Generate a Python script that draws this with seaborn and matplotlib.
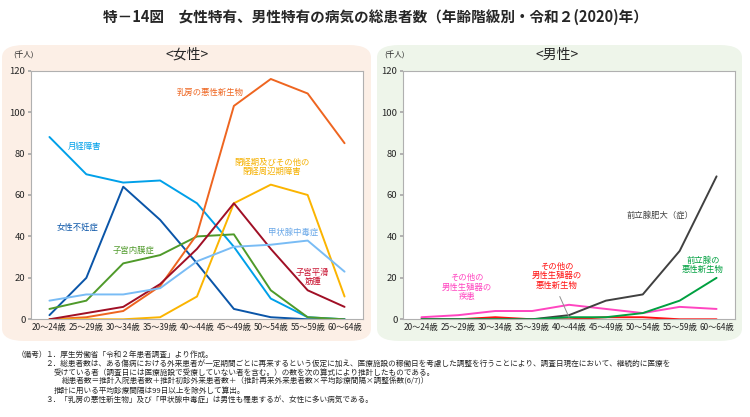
import numpy as np
import pandas as pd
import matplotlib
matplotlib.use("Agg")
import matplotlib.pyplot as plt
from matplotlib.patches import FancyBboxPatch
import seaborn as sns

ages = ["20～24歳", "25～29歳", "30～34歳", "35～39歳", "40～44歳",
        "45～49歳", "50～54歳", "55～59歳", "60～64歳"]

# 女性 (千人)
f_gekkei = [88, 70, 66, 67, 56, 35, 10, 1, 0]
f_funin = [2, 20, 64, 48, 27, 5, 1, 0, 0]
f_naimaku = [5, 9, 27, 31, 40, 41, 14, 1, 0]
f_nyubo = [0, 1, 4, 16, 41, 103, 116, 109, 85]
f_heikei = [0, 0, 0, 1, 11, 56, 65, 60, 11]
f_kinshu = [0, 3, 6, 17, 34, 56, 34, 14, 6]
f_koujou = [9, 12, 12, 15, 28, 35, 36, 38, 23]

# 男性 (千人)
m_hidai = [0, 0, 0, 0, 2, 9, 12, 33, 69]
m_zenritsu = [0, 0, 0, 0, 1, 1, 3, 9, 20]
m_shikkan = [1, 2, 4, 4, 7, 5, 3, 6, 5]
m_akusei = [0, 0, 1, 0, 0, 1, 1, 0, 0]

female = {
    "月経障害": (f_gekkei, "#00a0e9"),
    "女性不妊症": (f_funin, "#0a55a8"),
    "子宮内膜症": (f_naimaku, "#4f9a2a"),
    "乳房の悪性新生物": (f_nyubo, "#ee6520"),
    "閉経期障害": (f_heikei, "#fbb400"),
    "子宮平滑筋腫": (f_kinshu, "#a00f25"),
    "甲状腺中毒症": (f_koujou, "#79bcf5"),
}
male = {
    "悪性新生物": (m_akusei, "#ff1010"),
    "疾患": (m_shikkan, "#ff45c0"),
    "前立腺肥大": (m_hidai, "#404040"),
    "前立腺の悪性新生物": (m_zenritsu, "#00a040"),
}


def to_long(series):
    rows = []
    for name, (vals, _) in series.items():
        for a, v in zip(ages, vals):
            rows.append({"age": a, "value": v, "disease": name})
    return pd.DataFrame(rows)


sns.set_theme(style="white")
plt.rcParams["font.family"] = ["Noto Sans CJK JP", "DejaVu Sans"]

fig = plt.figure(figsize=(7.5, 4.17), dpi=100)
W, H = 750, 417

# panel backgrounds
for x0, x1, col in [(2, 371, "#fcefe6"), (377, 742, "#eef5ea")]:
    fig.patches.append(FancyBboxPatch(
        (x0 / W, (H - 341) / H), (x1 - x0) / W, (341 - 45) / H,
        boxstyle="round,pad=0,rounding_size=0.03", transform=fig.transFigure,
        facecolor=col, edgecolor="none", zorder=-5))

fig.text(0.5, 1 - 17 / H, "特－14図　女性特有、男性特有の病気の総患者数（年齢階級別・令和２(2020)年）",
         ha="center", va="center", fontsize=10.5, fontweight="bold")


def make_axes(left_px, series, title, cx):
    ax = fig.add_axes([left_px / W, (H - 319.3) / H, 332 / W, (319.3 - 70.7) / H])
    df = to_long(series)
    pal = {k: c for k, (_, c) in series.items()}
    sns.lineplot(data=df, x="age", y="value", hue="disease", palette=pal,
                 linewidth=1.4, legend=False, ax=ax)
    ax.set_xlim(-0.5, 8.5)
    ax.set_ylim(0, 120)
    ax.set_yticks(range(0, 121, 20))
    ax.set_xlabel("")
    ax.set_ylabel("")
    ax.tick_params(axis="y", labelsize=6.8, length=2, pad=2, color="#aaaaaa", left=True)
    ax.tick_params(axis="x", labelsize=5.9, length=0, pad=3)
    for s in ax.spines.values():
        s.set_color("#b0b0b0")
        s.set_linewidth(0.8)
    ax.set_facecolor("white")
    fig.text((left_px - 8) / W, 1 - 56 / H, "(千人)", fontsize=5.5, ha="center", va="center")
    fig.text(cx / W, 1 - 55 / H, title, fontsize=10, ha="center", va="center")
    return ax


axf = make_axes(31, female, "<女性>", 187)
axm = make_axes(403, male, "<男性>", 557)

fs = 6
axf.text(4.35, 109.7, "乳房の悪性新生物", color="#ee6520", fontsize=fs, ha="center", va="center")
axf.text(0.96, 83.6, "月経障害", color="#00a0e9", fontsize=fs, ha="center", va="center")
axf.text(6.03, 73.5, "閉経期及びその他の\n閉経周辺期障害", color="#f5b000", fontsize=fs,
         ha="center", va="center", linespacing=1.1)
axf.text(0.75, 44.5, "女性不妊症", color="#0a55a8", fontsize=fs, ha="center", va="center")
axf.text(2.29, 33.4, "子宮内膜症", color="#4f9a2a", fontsize=fs, ha="center", va="center")
axf.text(6.6, 42, "甲状腺中毒症", color="#6aa8e8", fontsize=fs, ha="center", va="center")
axf.text(7.14, 20.4, "子宮平滑\n筋腫", color="#c8102e", fontsize=fs, ha="center", va="center",
         linespacing=1.1)

axm.text(6.46, 50.3, "前立腺肥大（症）", color="#404040", fontsize=fs, ha="center", va="center")
axm.text(7.63, 26.2, "前立腺の\n悪性新生物", color="#00a040", fontsize=fs, ha="center",
         va="center", linespacing=1.1)
axm.text(1.23, 15.6, "その他の\n男性生殖器の\n疾患", color="#ff45c0", fontsize=fs, ha="center",
         va="center", linespacing=1.1)
axm.text(3.67, 21.0, "その他の\n男性生殖器の\n悪性新生物", color="#ff1010", fontsize=fs,
         ha="center", va="center", linespacing=1.1)
axm.plot([3.75, 4.0], [11.0, 1.0], color="#909090", linewidth=0.7)

notes = [
    (17, 355, "（備考）"),
    (45, 355, "１．厚生労働省「令和２年患者調査」より作成。"),
    (45, 364, "２．総患者数は、ある傷病における外来患者が一定期間ごとに再来するという仮定に加え、医療施設の稼働日を考慮した調整を行うことにより、調査日現在において、継続的に医療を"),
    (54, 373, "受けている者（調査日には医療施設で受療していない者を含む。）の数を次の算式により推計したものである。"),
    (62, 382, "総患者数＝推計入院患者数＋推計初診外来患者数＋（推計再来外来患者数×平均診療間隔×調整係数(6/7)）"),
    (54, 391, "推計に用いる平均診療間隔は99日以上を除外して算出。"),
    (45, 400, "３．「乳房の悪性新生物」及び「甲状腺中毒症」は男性も罹患するが、女性に多い病気である。"),
]
for x, y, t in notes:
    fig.text(x / W, 1 - y / H, t, fontsize=5.5, ha="left", va="center")

fig.savefig("out.png", dpi=100)
